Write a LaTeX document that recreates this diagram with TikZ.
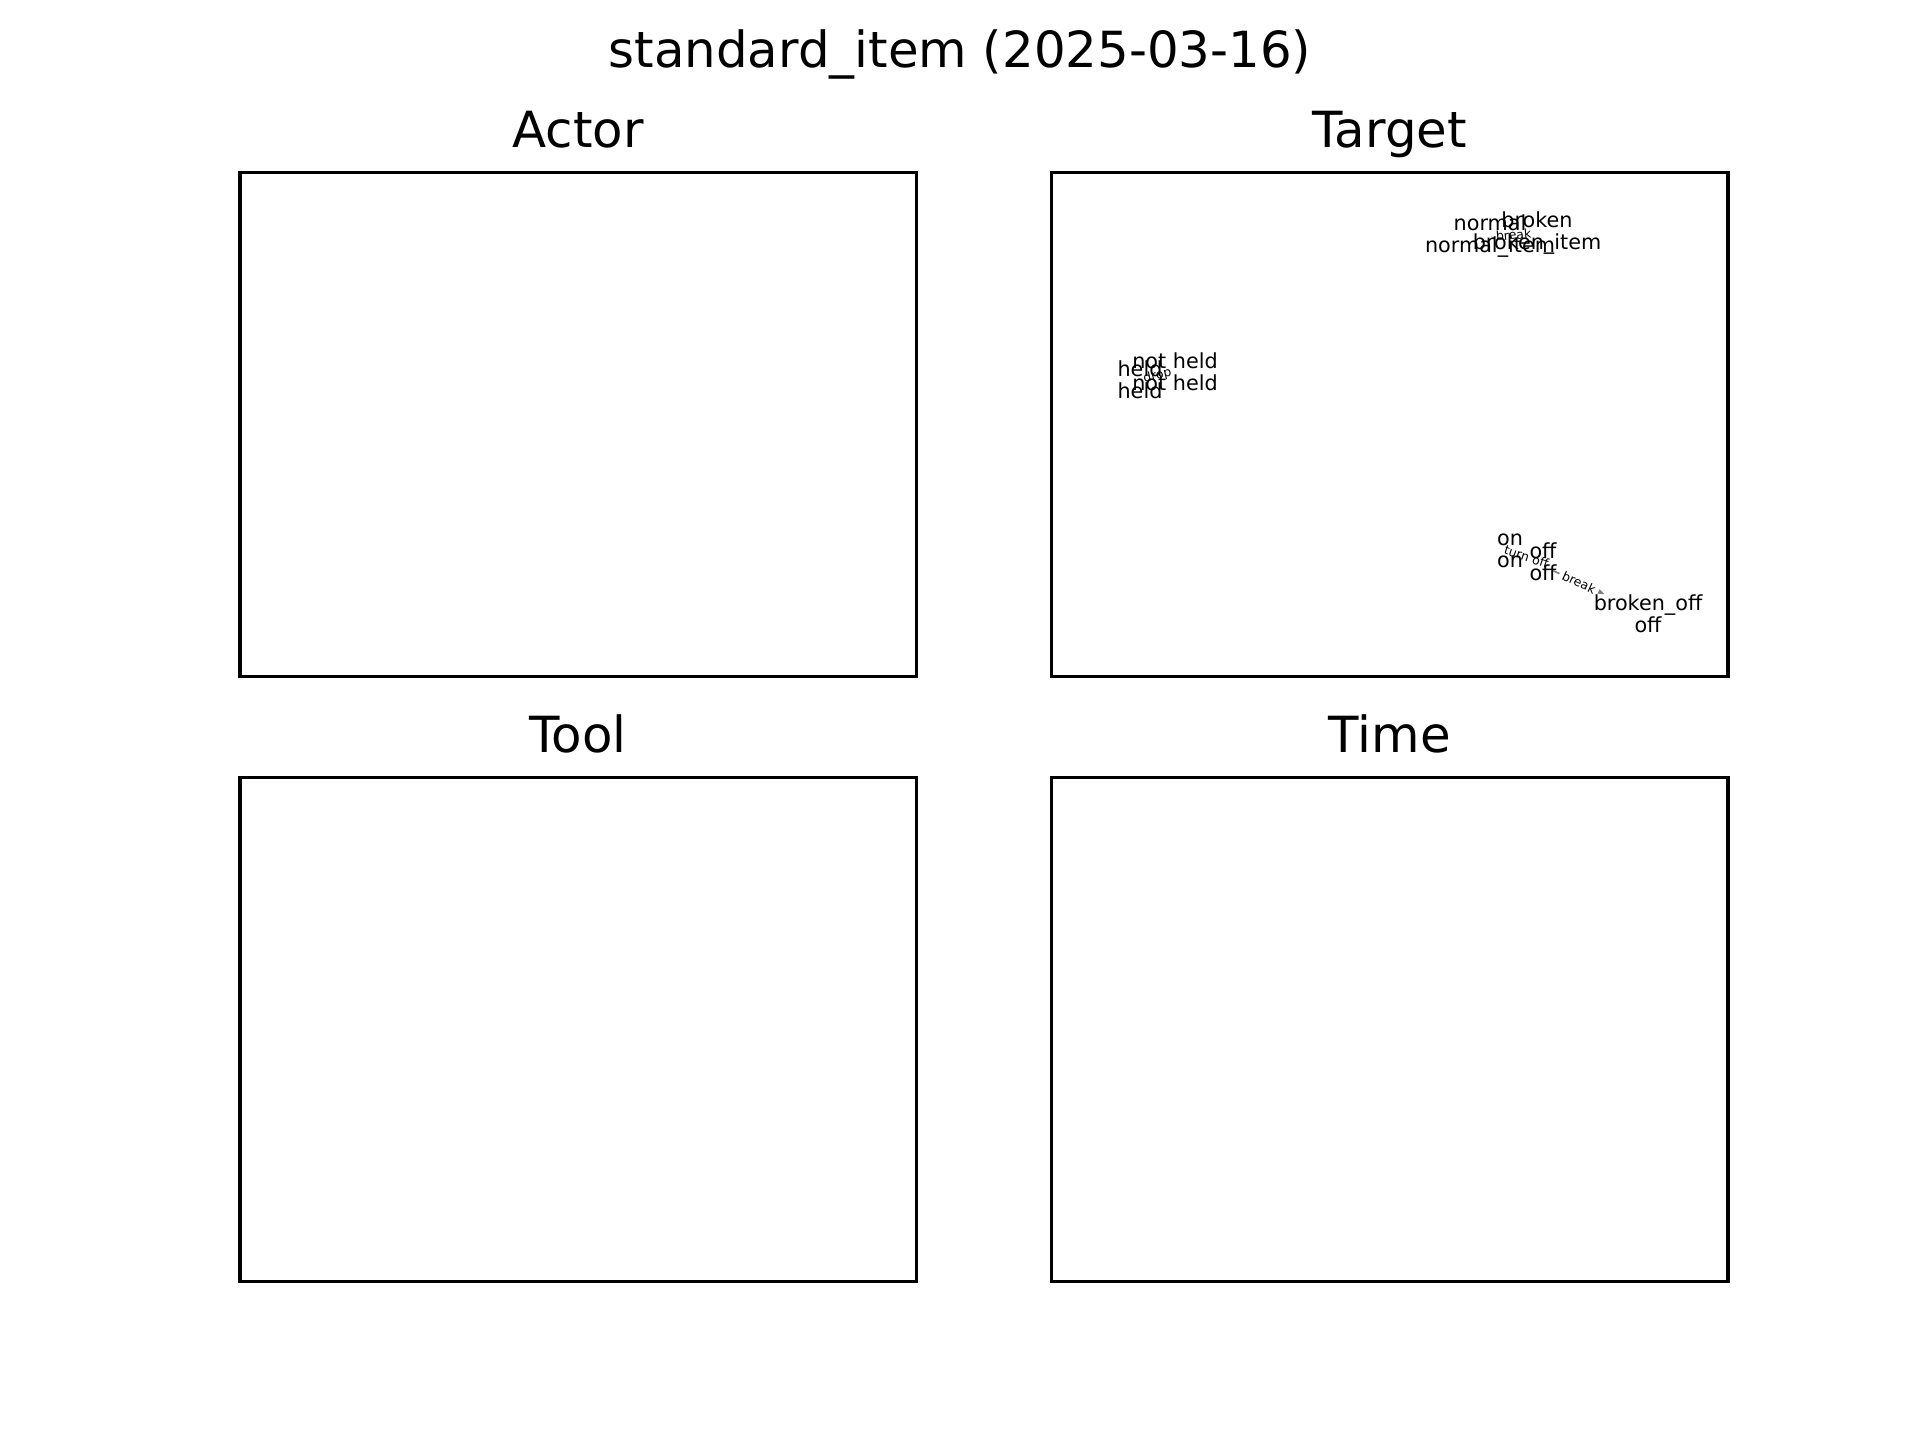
\documentclass[tikz,border=0pt]{standalone}
\usepackage{fontspec}
\setmainfont{DejaVu Sans}
\usepackage{tikz}
\usetikzlibrary{positioning,arrows.meta}
\definecolor{edgegray}{RGB}{128,128,128}

\begin{document}
\begin{tikzpicture}[x=0.2409pt, y=-0.2409pt,
        panel/.style={draw, line width=0.8pt, minimum width=162.95pt,
                      minimum height=121.41pt, inner sep=0pt, outer sep=0pt},
        ptitle/.style={font=\fontsize{12}{14}\selectfont, inner sep=0pt, anchor=base},
        state/.style={font=\fontsize{5}{5.3}\selectfont, align=center, inner sep=0pt},
        elabel/.style={font=\fontsize{3}{3.6}\selectfont, fill=white,
                       rounded corners=0.8pt, inner sep=0.9pt},
        edge/.style={draw=edgegray, line width=0.4pt,
                     -{Stealth[length=2.2pt,width=1.6pt]}}
    ]
    \useasboundingbox (0,0) rectangle (1920,1440);
    \node[ptitle] (suptitle) at (960,67) {standard\_item (2025-03-16)};
    % four panels
    \node[panel] (actor) at (578.2,424.8) {};
    \node[panel] (target) at (1389.8,424.8) {};
    \node[panel] (tool) at (578.2,1029.6) {};
    \node[panel] (time) at (1389.8,1029.6) {};
    \node[above=6pt of actor.north, ptitle] (actortitle) {Actor};
    \node[above=6pt of target.north, ptitle] (targettitle) {Target};
    \node[above=6pt of tool.north, ptitle] (tooltitle) {Tool};
    \node[above=6pt of time.north, ptitle] (timetitle) {Time};
    % state graph in the target panel
    \coordinate (pnormal) at (1490,236.5);
    \coordinate (pbroken) at (1537,233);
    \coordinate (pheld) at (1140,379.5);
    \coordinate (pnotheld) at (1175,371.5);
    \coordinate (pon) at (1510,551);
    \coordinate (poff) at (1543,562);
    \coordinate (pbrokenoff) at (1648,614);
    \draw[edge, shorten <=0.4pt, shorten >=0.4pt] (pnormal) -- node[elabel, sloped] (lbreaka) {break} (pbroken);
    \draw[edge] (pheld) -- node[elabel, sloped] (ldrop) {drop} (pnotheld);
    \draw[edge, shorten <=2pt, shorten >=2pt] (pon) -- node[elabel, sloped] (lturnoff) {turn off} (poff);
    \draw[edge, shorten <=11.5pt, shorten >=11.5pt] (pon) -- node[elabel, sloped] (lbreakb) {break} (pbrokenoff);
    \node[state] (normal) at (pnormal) {normal\\normal\_item};
    \node[state] (broken) at (pbroken) {broken\\broken\_item};
    \node[state] (held) at (pheld) {held\\held};
    \node[state] (notheld) at (pnotheld) {not held\\not held};
    \node[state] (on) at (pon) {on\\on};
    \node[state] (off) at (poff) {off\\off};
    \node[state] (brokenoff) at (pbrokenoff) {broken\_off\\off};
\end{tikzpicture}
\end{document}
